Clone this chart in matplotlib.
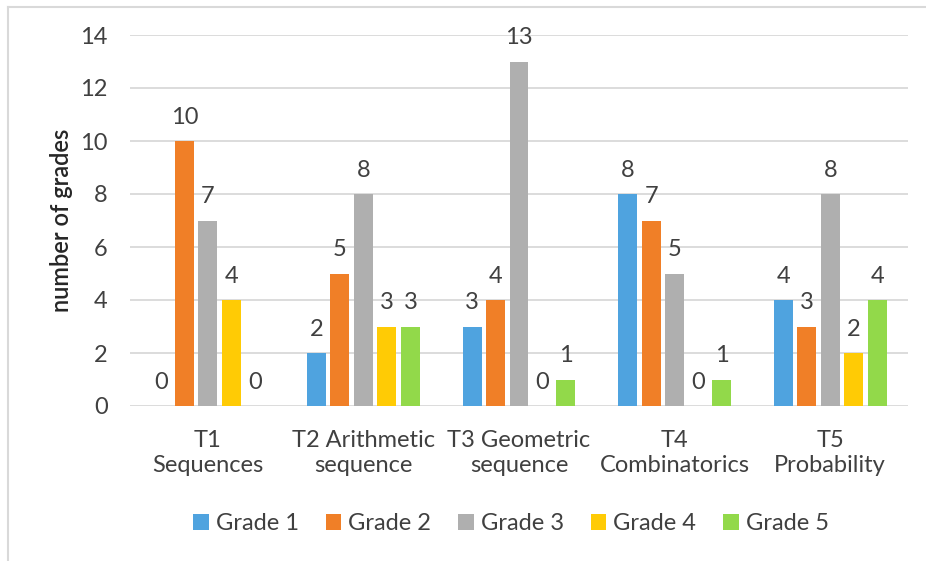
import numpy as np
import matplotlib.pyplot as plt
from matplotlib.lines import Line2D
from matplotlib.patches import Patch

plt.rcParams['font.family'] = ['Lato', 'DejaVu Sans']

topics = ['T1\nSequences', 'T2 Arithmetic\nsequence', 'T3 Geometric\nsequence',
          'T4\nCombinatorics', 'T5\nProbability']
grade_names = ['Grade 1', 'Grade 2', 'Grade 3', 'Grade 4', 'Grade 5']
grade1 = [0, 2, 3, 8, 4]
grade2 = [10, 5, 4, 7, 3]
grade3 = [7, 8, 13, 5, 8]
grade4 = [4, 3, 0, 0, 2]
grade5 = [0, 3, 1, 1, 4]
colors = ['#4fa3df', '#f07f27', '#afafaf', '#ffcb05', '#92d94a']

series = [grade1, grade2, grade3, grade4, grade5]
txt = '#404040'
fs = 17

fig = plt.figure(figsize=(9.26, 5.61), dpi=100)
ax = fig.add_axes([130 / 926, 1 - 406 / 561, 778 / 926, 371 / 561])

x = np.arange(len(topics))
step = 0.151
for i, (vals, c) in enumerate(zip(series, colors)):
    pos = x + (i - 2) * step
    ax.bar(pos, vals, width=0.122, color=c, zorder=3)
    for p, v in zip(pos, vals):
        ax.text(p, v + 0.5, str(v), ha='center', va='bottom', fontsize=fs, color=txt)

ax.set_xlim(-0.5, 4.5)
ax.set_ylim(0, 14)
ax.set_yticks(range(0, 15, 2))
ax.set_xticks(x)
ax.set_xticklabels(topics, fontsize=fs, color=txt, linespacing=1.25)
ax.tick_params(axis='y', labelsize=fs, colors=txt, length=0, pad=16)
ax.tick_params(axis='x', length=0, pad=17)
ax.grid(axis='y', color='#d9d9d9', linewidth=1.3, zorder=0)
for s in ax.spines.values():
    s.set_visible(False)
ax.set_ylabel('number of grades', fontsize=fs, color='#262626', fontweight='semibold', labelpad=5)

handles = [Patch(facecolor=c) for c in colors]
fig.legend(handles, grade_names, loc='center', bbox_to_anchor=(511 / 926, 1 - 524 / 561),
           ncol=5, frameon=False, fontsize=fs, labelcolor=txt, handlelength=0.65,
           handleheight=0.65, handletextpad=0.3, columnspacing=1.15)

# outer chart border (top and left only)
fig.add_artist(Line2D([8 / 926, 1], [1 - 7 / 561, 1 - 7 / 561], color='#d9d9d9', lw=1.5))
fig.add_artist(Line2D([8 / 926, 8 / 926], [0, 1 - 7 / 561], color='#d9d9d9', lw=1.5))

fig.savefig('out.png', dpi=100)
